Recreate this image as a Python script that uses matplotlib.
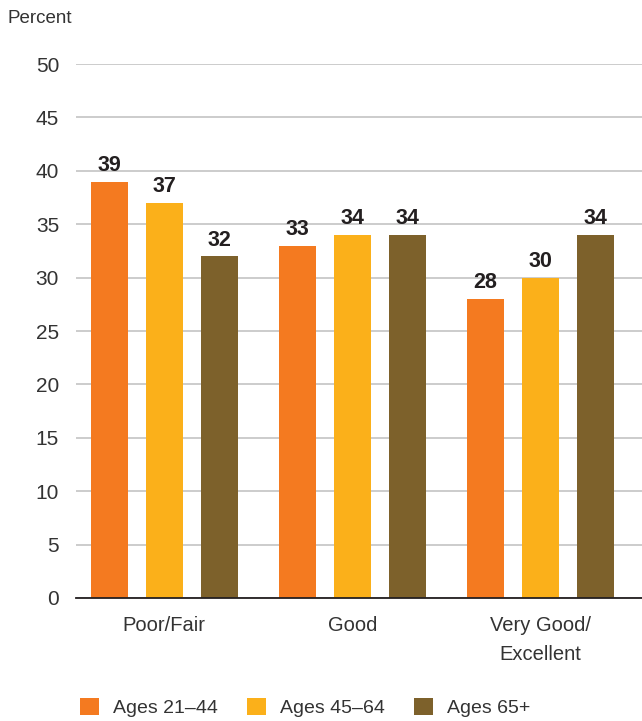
import numpy as np
import matplotlib.pyplot as plt
from matplotlib.patches import Patch

plt.rcParams['font.family'] = ['Liberation Sans Narrow', 'Liberation Sans', 'DejaVu Sans']

categories = ['Poor/Fair', 'Good', 'Very Good/\nExcellent']
series = ['Ages 21\u201344', 'Ages 45\u201364', 'Ages 65+']
ages_21_44 = [39, 33, 28]
ages_45_64 = [37, 34, 30]
ages_65_up = [32, 34, 34]
colors = ['#F47A20', '#FBB01A', '#7D612B']
yticks = [0, 5, 10, 15, 20, 25, 30, 35, 40, 45, 50]

fig = plt.figure(figsize=(6.42, 7.21), dpi=100)
ax = fig.add_axes([0.118, 0.1706, 0.882, 0.7405])

x = np.arange(len(categories))
offset = 0.293
width = 0.197
for i, (vals, c) in enumerate(zip([ages_21_44, ages_45_64, ages_65_up], colors)):
    pos = x + (i - 1) * offset
    bars = ax.bar(pos, vals, width=width, color=c, zorder=3)
    for b, v in zip(bars, vals):
        ax.annotate(str(v), (b.get_x() + b.get_width() / 2, v),
                    xytext=(0, 4), textcoords='offset points',
                    ha='center', va='bottom', fontsize=15.5,
                    fontweight='bold', color='#231F20')

ax.set_xlim(-0.47, 2.54)
ax.set_ylim(0, 50)
ax.set_yticks(yticks)
ax.yaxis.grid(True, color='#C8C8C8', linewidth=1.3, zorder=0)
ax.set_xticks(x)
ax.set_xticklabels(categories, fontsize=14.5, color='#333333', linespacing=1.65)
ax.tick_params(axis='y', length=0, pad=12, labelsize=15, labelcolor='#333333')
ax.tick_params(axis='x', length=0, pad=13)
for s in ['top', 'right', 'left']:
    ax.spines[s].set_visible(False)
ax.spines['bottom'].set_color('#231F20')
ax.spines['bottom'].set_linewidth(1.3)
ax.spines['bottom'].set_zorder(4)

fig.text(0.012, 0.975, 'Percent', fontsize=13.5, color='#333333', va='center')

handles = [Patch(facecolor=c, edgecolor='none') for c in colors]
fig.legend(handles, series, loc='center', bbox_to_anchor=(0.475, 0.019),
           ncol=3, frameon=False, fontsize=14, handlelength=1.0,
           handleheight=1.0, handletextpad=0.7, columnspacing=1.5,
           labelcolor='#333333')

fig.savefig('out.png', dpi=100)
